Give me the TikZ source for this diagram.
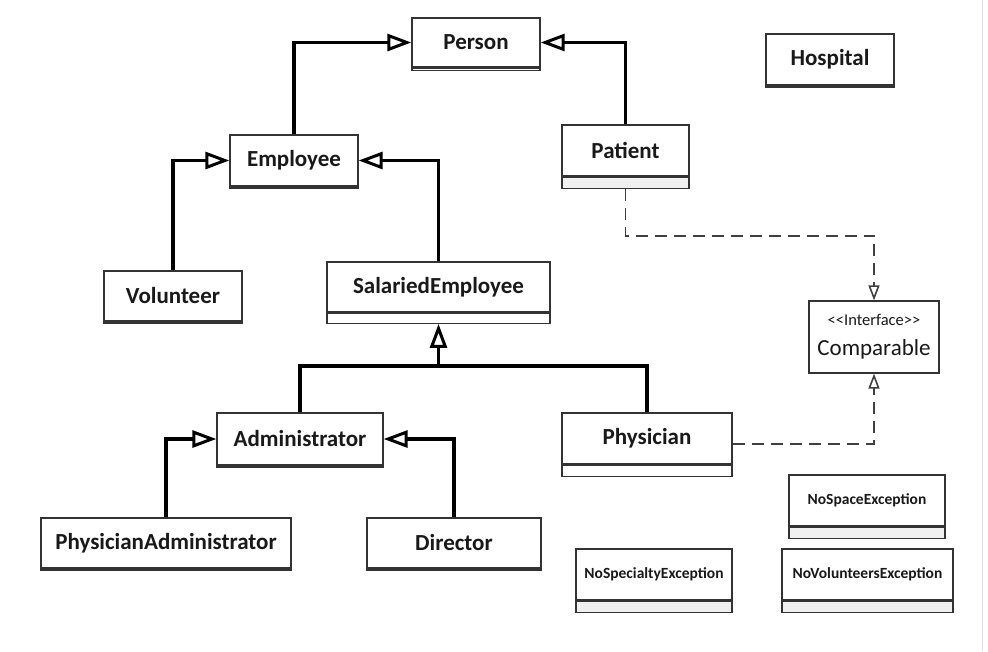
\documentclass[tikz,border=0pt]{standalone}
\usepackage{fontspec}
\setmainfont{Carlito}
\usetikzlibrary{positioning,arrows.meta}
\definecolor{boxline}{HTML}{333333}
\definecolor{attrgray}{HTML}{F0F0F0}
\definecolor{dashgray}{HTML}{404040}
\tikzset{every picture/.style={x=1pt,y=-1pt}}
\tikzset{classbox/.style 2 args={draw=boxline,line width=1.3pt,fill=white,inner sep=0pt,
    minimum width=#1,minimum height=#2,text=black!90,font=\bfseries\fontsize{23}{23}\selectfont}}
\tikzset{attrbox/.style 2 args={draw=boxline,line width=1.3pt,fill=white,inner sep=0pt,
    minimum width=#1,minimum height=#2}}
\tikzset{smallname/.style={font=\bfseries\fontsize{15.5}{15.5}\selectfont}}
\tikzset{gen/.style={-{Triangle[open,length=24pt 0 0,width=17pt 0 0,line width=3pt]},line width=3.5pt}}
\tikzset{gen line/.style={line width=3.5pt}}
\tikzset{real/.style={-{Triangle[open,length=15pt 0 0,width=11pt 0 0,line width=1.6pt]},line width=1.8pt,draw=dashgray,
    dash pattern=on 12pt off 7pt}}

\begin{document}
\begin{tikzpicture}
  \useasboundingbox (0,0) rectangle (988,651);
  \draw[black!13,line width=1pt] (982,0) -- (982,651);

  \node[classbox={128}{49}] (person) at (476,42.5) {Person};
  \node[attrbox={128}{2},below=0pt of person] (personattr) {};
  \node[classbox={127}{51}] (patient) at (625.5,150.5) {Patient};
  \node[attrbox={127}{11},fill=attrgray,below=0pt of patient] (patientattr) {};
  \node[classbox={128}{51}] (hospital) at (830,59.5) {Hospital};
  \node[attrbox={128}{1},below=0pt of hospital] (hospitalattr) {};
  \node[classbox={128}{51}] (employee) at (294,160.5) {Employee};
  \node[attrbox={128}{1},below=0pt of employee] (employeeattr) {};
  \node[classbox={138}{50}] (volunteer) at (173,296) {Volunteer};
  \node[attrbox={138}{1},below=0pt of volunteer] (volunteerattr) {};
  \node[classbox={223}{50}] (salaried) at (438.5,287) {SalariedEmployee};
  \node[attrbox={223}{10},below=0pt of salaried] (salariedattr) {};
  \node[classbox={166}{52}] (admin) at (300,439) {Administrator};
  \node[attrbox={166}{1},below=0pt of admin] (adminattr) {};
  \node[classbox={170}{51}] (physician) at (647,438.5) {Physician};
  \node[attrbox={170}{11},below=0pt of physician] (physicianattr) {};
  \node[classbox={250}{50}] (physadmin) at (166,543) {PhysicianAdministrator};
  \node[attrbox={250}{1},below=0pt of physadmin] (physadminattr) {};
  \node[classbox={174}{50}] (director) at (454,543) {Director};
  \node[attrbox={174}{1},below=0pt of director] (directorattr) {};

  \node[classbox={130}{72},font=\fontsize{23}{23}\selectfont,align=center] (comparable) at (874,337)
    {{\fontsize{16.5}{16.5}\selectfont <\kern0pt<Interface>\kern0pt>}\\[7pt]Comparable};

  \node[classbox={156}{51},smallname] (nospace) at (867,500.5) {NoSpaceException};
  \node[attrbox={156}{11},fill=attrgray,below=0pt of nospace] (nospaceattr) {};
  \node[classbox={156}{51},smallname] (nospecialty) at (654,574.5) {NoSpecialtyException};
  \node[attrbox={156}{11},fill=attrgray,below=0pt of nospecialty] (nospecialtyattr) {};
  \node[classbox={171}{51},smallname] (novolunteers) at (867.5,574.5) {NoVolunteersException};
  \node[attrbox={171}{11},fill=attrgray,below=0pt of novolunteers] (novolunteersattr) {};

  % generalizations
  \draw[gen] (employee.north) |- (person.west);
  \draw[gen,line width=3pt] (patient.north) |- (person.east);
  \draw[gen] (volunteer.north) |- (employee.west);
  \draw[gen] (salaried.north) |- (employee.east);
  \coordinate (fork) at (438.5,366);
  \draw[gen line] (admin.north) |- (fork);
  \draw[gen line] (physician.north) |- (fork);
  \draw[gen] (fork) -- (salariedattr.south);
  \draw[gen] (physadmin.north) |- (admin.west);
  \draw[gen] (director.north) |- (admin.east);

  % realizations
  \draw[real] (patientattr.south) -- ++(0,47) -| (comparable.north);
  \draw[real] ([yshift=-5.5pt]physician.east) -| (comparable.south);
\end{tikzpicture}
\end{document}
